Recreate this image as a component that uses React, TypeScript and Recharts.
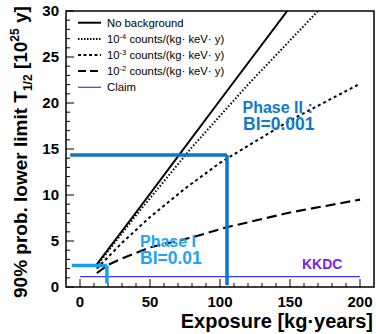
import { ComposedChart, Line, XAxis, YAxis, ReferenceLine } from "recharts";

// exposure [kg·years] vs. 90% lower limit on T1/2 [1e25 y]
const noBgExposure = [12, 40, 70, 100, 148];
const noBgLimit = [2.45, 8.1, 14.2, 20.3, 30];

const bg4Exposure = [12, 40, 80, 120, 170];
const bg4Limit = [2.3, 7.8, 15.2, 22.0, 30];

const bg3Exposure = [12, 30, 50, 75, 100, 150, 200];
const bg3Limit = [2.0, 4.8, 7.6, 10.7, 13.5, 18.1, 22.1];

const bg2Exposure = [12, 20, 30, 50, 80, 105, 150, 200];
const bg2Limit = [1.5, 2.4, 3.1, 4.3, 5.4, 6.5, 8.1, 9.5];

const claimExposure = [0, 200];
const claimLimit = [1.12, 1.12];

// phase markers: [start exposure, exposure, limit, bottom]
const phaseI = [-5.8, 19.2, 2.35, 0.4];
const phaseII = [-7, 105, 14.35, 0.2];

const xTicks = [0, 10, 20, 30, 40, 50, 60, 70, 80, 90, 100, 110, 120, 130, 140, 150, 160, 170, 180, 190, 200];
const yTicks = Array.from({ length: 31 }, (_, i) => i);

const pts = (xs: number[], ys: number[]) => xs.map((x, i) => ({ x, t: ys[i] }));

const FONT = "'Liberation Sans', Arial, Helvetica, sans-serif";
const L = 66;
const T = 11;
const R = 374;
const B = 287;

const YTick = (props: any) => {
  const { y, payload } = props;
  const v = payload.value;
  const major = v % 5 === 0;
  return (
    <g>
      <line x1={L} x2={L + (major ? 8 : 4)} y1={y} y2={y} stroke="#000" strokeWidth={1} />
      {major && (
        <text x={59} y={y} dy={5} textAnchor="end" fontFamily={FONT} fontWeight="bold" fontSize={15} fill="#000">
          {v}
        </text>
      )}
    </g>
  );
};

const XTick = (props: any) => {
  const { x, payload } = props;
  const v = payload.value;
  const major = v % 50 === 0;
  return (
    <g>
      <line x1={x} x2={x} y1={B} y2={B - (major ? 8 : 4)} stroke="#000" strokeWidth={1} />
      {major && (
        <text x={x} y={307} textAnchor="middle" fontFamily={FONT} fontWeight="bold" fontSize={15} fill="#000">
          {v}
        </text>
      )}
    </g>
  );
};

const legendRows = [
  { dash: undefined, w: 2, color: "#000", label: "No background" },
  { dash: "1.5 1.5", w: 2, color: "#000", label: "-4" },
  { dash: "3 2.5", w: 2, color: "#000", label: "-3" },
  { dash: "8 4", w: 2.2, color: "#000", label: "-2" },
  { dash: undefined, w: 1.2, color: "#3b3bff", label: "Claim" },
];
const legendY = [22.7, 39, 55, 71, 87.3];

export default function App() {
  const lineCommon = { type: "linear" as const, dataKey: "t", dot: false, isAnimationActive: false, stroke: "#000" };
  return (
    <div style={{ position: "absolute", left: 0, top: 0, width: 376, height: 334, background: "#fff" }}>
      <ComposedChart width={376} height={334} margin={{ top: T, right: 376 - R, bottom: 0, left: 0 }}>
        <XAxis
          type="number"
          dataKey="x"
          domain={[-10, 210]}
          ticks={xTicks}
          allowDataOverflow
          axisLine={false}
          tickLine={false}
          tick={<XTick />}
          height={334 - B}
          interval={0}
        />
        <YAxis
          type="number"
          domain={[0, 30]}
          ticks={yTicks}
          allowDataOverflow
          axisLine={false}
          tickLine={false}
          tick={<YTick />}
          width={L}
          interval={0}
        />
        <Line {...lineCommon} data={pts(claimExposure, claimLimit)} stroke="#3b3bff" strokeWidth={1.2} />
        <Line {...lineCommon} data={pts(noBgExposure, noBgLimit)} strokeWidth={2} />
        <Line {...lineCommon} data={pts(bg4Exposure, bg4Limit)} strokeWidth={2} strokeDasharray="1.5 2" />
        <Line {...lineCommon} data={pts(bg3Exposure, bg3Limit)} strokeWidth={2} strokeDasharray="3 3" />
        <Line {...lineCommon} data={pts(bg2Exposure, bg2Limit)} strokeWidth={2.1} strokeDasharray="10 5" />
        <ReferenceLine
          segment={[{ x: phaseII[0], y: phaseII[2] }, { x: phaseII[1], y: phaseII[2] }]}
          stroke="#0b75c9"
          strokeWidth={3.5}
          ifOverflow="visible"
        />
        <ReferenceLine
          segment={[{ x: phaseII[1], y: phaseII[2] }, { x: phaseII[1], y: phaseII[3] }]}
          stroke="#0b75c9"
          strokeWidth={3.5}
          ifOverflow="visible"
        />
        <ReferenceLine
          segment={[{ x: phaseI[0], y: phaseI[2] }, { x: phaseI[1], y: phaseI[2] }]}
          stroke="#1a9ff0"
          strokeWidth={3.5}
          ifOverflow="visible"
        />
        <ReferenceLine
          segment={[{ x: phaseI[1], y: phaseI[2] }, { x: phaseI[1], y: phaseI[3] }]}
          stroke="#1a9ff0"
          strokeWidth={3.5}
          ifOverflow="visible"
        />
      </ComposedChart>
      <svg
        width={376}
        height={334}
        style={{ position: "absolute", left: 0, top: 0, pointerEvents: "none" }}
        fontFamily={FONT}
      >
        <rect x={L} y={T} width={R - L} height={B - T} fill="none" stroke="#000" strokeWidth={1.5} />
        {legendRows.map((r, i) => (
          <g key={i}>
            <line x1={78} x2={101} y1={legendY[i]} y2={legendY[i]} stroke={r.color} strokeWidth={r.w} strokeDasharray={r.dash} />
            {r.label.startsWith("-") ? (
              <text x={107} y={legendY[i] + 4} fontSize={11.3} fill="#000">
                10
                <tspan dy={-4} fontSize={7.5}>{r.label}</tspan>
                <tspan dy={4}> counts/(kg· keV· y)</tspan>
              </text>
            ) : (
              <text x={107} y={legendY[i] + 4} fontSize={11.3} fill="#000">
                {r.label}
              </text>
            )}
          </g>
        ))}
        <text x={242.5} y={113.3} fontSize={16} fontWeight="bold" fill="#1278c8">Phase II :</text>
        <text x={243} y={130} fontSize={17.5} fontWeight="bold" fill="#1278c8">BI=0.001</text>
        <text x={140} y={246.7} fontSize={16} fontWeight="bold" fill="#20a4f4">Phase I</text>
        <text x={140} y={264.3} fontSize={17.5} fontWeight="bold" fill="#20a4f4">BI=0.01</text>
        <text x={302} y={269} fontSize={14} fontWeight="bold" fill="#7a22e8">KKDC</text>
        <text x={373} y={328} fontSize={20} fontWeight="bold" textAnchor="end" fill="#000">
          Exposure [kg·years]
        </text>
        <text transform="translate(27,298) rotate(-90)" fontSize={19} fontWeight="bold" fill="#000">
          90% prob. lower limit T
          <tspan dy={5} fontSize={12}>1/2</tspan>
          <tspan dy={-5}> [10</tspan>
          <tspan dy={-8} fontSize={12}>25</tspan>
          <tspan dy={8}> y]</tspan>
        </text>
      </svg>
    </div>
  );
}
